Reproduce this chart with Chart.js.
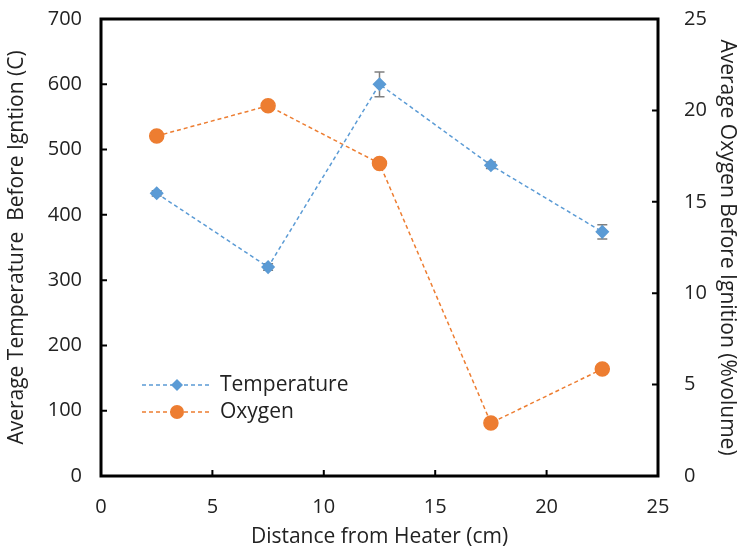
<!DOCTYPE html>
<html>
<head>
<meta charset="utf-8">
<script src="https://cdn.jsdelivr.net/npm/chart.js@4"></script>
<style>
  html, body { margin: 0; padding: 0; background: #fff; }
  #wrap { width: 740px; height: 550px; }
</style>
</head>
<body>
<div id="wrap"><canvas id="chart" width="740" height="550"></canvas></div>
<script>
let distances = [2.5, 7.5, 12.5, 17.5, 22.5];
let temperature = [433, 320, 600, 476, 374];
let temperatureErr = [4, 5, 19, 5, 11];
let oxygen = [18.6, 20.25, 17.1, 2.9, 5.85];

let xTicks = [0, 5, 10, 15, 20, 25];
let tempTicks = [0, 100, 200, 300, 400, 500, 600, 700];
let oxyTicks = [0, 5, 10, 15, 20, 25];

let blue = "#5B9BD5";
let orange = "#ED7D31";
let textColor = "#222";
let fontFamily = "'Open Sans', sans-serif";

function fixVertical(s, width) {
    s.width = width;
    s.paddingTop = 0;
    s.paddingBottom = 0;
}

// frame, inward ticks, error bars and legend
let extras = {
    id: "extras",
    beforeDatasetsDraw(chart) {
        let ctx = chart.ctx;
        let xs = chart.scales.x, ys = chart.scales.y;
        ctx.save();
        ctx.strokeStyle = "#7f7f7f";
        ctx.lineWidth = 1.5;
        distances.forEach((d, i) => {
            let px = xs.getPixelForValue(d);
            let top = ys.getPixelForValue(temperature[i] + temperatureErr[i]);
            let bot = ys.getPixelForValue(temperature[i] - temperatureErr[i]);
            ctx.beginPath();
            ctx.moveTo(px, top); ctx.lineTo(px, bot);
            ctx.moveTo(px - 5, top); ctx.lineTo(px + 5, top);
            ctx.moveTo(px - 5, bot); ctx.lineTo(px + 5, bot);
            ctx.stroke();
        });
        ctx.restore();
    },
    afterDraw(chart) {
        let ctx = chart.ctx;
        let a = chart.chartArea;
        let xs = chart.scales.x, ys = chart.scales.y, y2 = chart.scales.y2;
        ctx.save();
        ctx.strokeStyle = "#000";
        ctx.lineWidth = 2;
        ctx.beginPath();
        xTicks.slice(1, -1).forEach(v => {
            let p = xs.getPixelForValue(v);
            ctx.moveTo(p, a.bottom); ctx.lineTo(p, a.bottom - 6);
        });
        tempTicks.slice(1, -1).forEach(v => {
            let p = ys.getPixelForValue(v);
            ctx.moveTo(a.left, p); ctx.lineTo(a.left + 6, p);
        });
        oxyTicks.slice(1, -1).forEach(v => {
            let p = y2.getPixelForValue(v);
            ctx.moveTo(a.right, p); ctx.lineTo(a.right - 6, p);
        });
        ctx.stroke();
        ctx.lineWidth = 3;
        ctx.strokeRect(a.left, a.top, a.right - a.left, a.bottom - a.top);

        // legend
        let items = [
            { label: "Temperature", color: blue, shape: "diamond", y: 385 },
            { label: "Oxygen", color: orange, shape: "circle", y: 412 }
        ];
        items.forEach(it => {
            ctx.strokeStyle = it.color;
            ctx.fillStyle = it.color;
            ctx.lineWidth = 1.5;
            ctx.setLineDash([4, 3]);
            ctx.beginPath();
            ctx.moveTo(142, it.y); ctx.lineTo(211, it.y);
            ctx.stroke();
            ctx.setLineDash([]);
            ctx.beginPath();
            if (it.shape === "diamond") {
                ctx.moveTo(177, it.y - 6); ctx.lineTo(183, it.y);
                ctx.lineTo(177, it.y + 6); ctx.lineTo(171, it.y);
                ctx.closePath();
            } else {
                ctx.arc(177, it.y, 7, 0, Math.PI * 2);
            }
            ctx.fill();
            ctx.fillStyle = textColor;
            ctx.font = "21px " + fontFamily;
            ctx.textBaseline = "middle";
            ctx.fillText(it.label, 220, it.y);
        });
        ctx.restore();
    }
};

let chart = new Chart(document.getElementById("chart"), {
    type: "line",
    data: {
        datasets: [{
            label: "Temperature",
            data: distances.map((d, i) => ({ x: d, y: temperature[i] })),
            yAxisID: "y",
            borderColor: blue,
            backgroundColor: blue,
            borderWidth: 1.5,
            borderDash: [4, 3],
            pointStyle: "rectRot",
            pointRadius: 6,
            pointHoverRadius: 6
        }, {
            label: "Oxygen",
            data: distances.map((d, i) => ({ x: d, y: oxygen[i] })),
            yAxisID: "y2",
            borderColor: orange,
            backgroundColor: orange,
            borderWidth: 1.5,
            borderDash: [4, 3],
            pointStyle: "circle",
            pointRadius: 7,
            pointHoverRadius: 7
        }]
    },
    options: {
        animation: false,
        responsive: false,
        layout: { padding: { top: 19, left: 0, right: 0, bottom: 0 } },
        plugins: { legend: { display: false }, tooltip: { enabled: false } },
        scales: {
            x: {
                type: "linear",
                min: 0, max: 25,
                afterFit: s => { s.height = 74; s.paddingLeft = 0; s.paddingRight = 0; },
                afterBuildTicks: s => { s.ticks = xTicks.map(v => ({ value: v })); },
                grid: { display: false, drawTicks: false },
                border: { display: false },
                ticks: { color: textColor, font: { family: fontFamily, size: 20 }, padding: 19 },
                title: { display: true, text: "Distance from Heater (cm)", color: textColor,
                         font: { family: fontFamily, size: 21 }, padding: { top: 4, bottom: 0 } }
            },
            y: {
                position: "left",
                min: 0, max: 700,
                afterFit: s => fixVertical(s, 101),
                afterBuildTicks: s => { s.ticks = tempTicks.map(v => ({ value: v })); },
                grid: { display: false, drawTicks: false },
                border: { display: false },
                ticks: { color: textColor, font: { family: fontFamily, size: 20 }, padding: 19 },
                title: { display: true, text: "Average Temperature  Before Igntion (C)", color: textColor,
                         font: { family: fontFamily, size: 21 }, padding: { top: 4, bottom: 0 } }
            },
            y2: {
                position: "right",
                min: 0, max: 25,
                afterFit: s => fixVertical(s, 82),
                afterBuildTicks: s => { s.ticks = oxyTicks.map(v => ({ value: v })); },
                grid: { display: false, drawTicks: false },
                border: { display: false },
                ticks: { color: textColor, font: { family: fontFamily, size: 20 }, padding: 26 },
                title: { display: true, text: "Average Oxygen Before Ignition (%volume)", color: textColor,
                         font: { family: fontFamily, size: 21 }, padding: { top: 0, bottom: 4 } }
            }
        }
    },
    plugins: [extras]
});
</script>
</body>
</html>
